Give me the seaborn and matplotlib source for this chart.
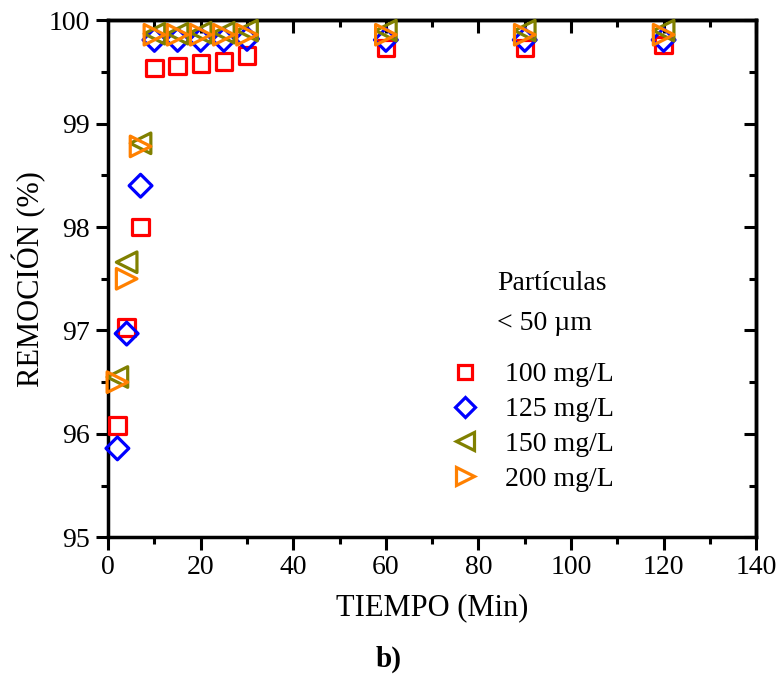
import matplotlib
matplotlib.use("Agg")
import matplotlib.pyplot as plt
import seaborn as sns
import pandas as pd
from matplotlib.ticker import MultipleLocator, NullFormatter
from matplotlib.lines import Line2D

tiempo = [2, 4, 7, 10, 15, 20, 25, 30, 60, 90, 120]
rem_100 = [96.08, 97.03, 98.00, 99.54, 99.56, 99.58, 99.60, 99.66, 99.73, 99.73, 99.76]
rem_125 = [95.86, 96.97, 98.40, 99.81, 99.81, 99.81, 99.81, 99.82, 99.81, 99.81, 99.81]
rem_150 = [96.55, 97.66, 98.81, 99.87, 99.87, 99.88, 99.88, 99.90, 99.90, 99.90, 99.90]
rem_200 = [96.50, 97.50, 98.78, 99.86, 99.86, 99.86, 99.86, 99.86, 99.86, 99.86, 99.86]
labels = ["100 mg/L", "125 mg/L", "150 mg/L", "200 mg/L"]

sns.set_theme(style="ticks")
plt.rcParams['font.family'] = ['Liberation Serif', 'DejaVu Serif']
for k in ['text.color', 'axes.labelcolor', 'xtick.color', 'ytick.color', 'axes.edgecolor']:
    plt.rcParams[k] = 'black'

fig = plt.figure(figsize=(7.78, 6.75), dpi=100)
ax = fig.add_axes([0.139, 0.204, 0.833, 0.766])

series = [rem_100, rem_125, rem_150, rem_200]
colors = ["#FF0000", "#0000FF", "#808000", "#FF8000"]
markers = ["s", "D", "<", ">"]
sizes = [140, 135, 220, 220]
handles = []
for vals, lab, col, mk, sz in zip(series, labels, colors, markers, sizes):
    df = pd.DataFrame({"t": tiempo, "r": vals})
    sns.scatterplot(data=df, x="t", y="r", ax=ax, marker=mk, s=sz,
                    facecolor="none", edgecolor=col, linewidth=2.3, zorder=3, clip_on=False)
    handles.append(Line2D([], [], linestyle="none", marker=mk,
                          markersize=(sz ** 0.5) * 0.85, markerfacecolor="none",
                          markeredgecolor=col, markeredgewidth=2.3, label=lab))

ax.set_xlim(0, 140)
ax.set_ylim(95, 100)
ax.xaxis.set_major_locator(MultipleLocator(20))
ax.xaxis.set_minor_locator(MultipleLocator(10))
ax.yaxis.set_major_locator(MultipleLocator(1))
ax.yaxis.set_minor_locator(MultipleLocator(0.5))
ax.tick_params(which="both", direction="out", labelsize=20, width=2.2)
ax.tick_params(which="major", length=9, pad=4)
ax.tick_params(which="minor", length=5)
for sp in ax.spines.values():
    sp.set_linewidth(2.5)

# top and right: inward ticks, no labels
top = ax.secondary_xaxis('top')
top.xaxis.set_major_locator(MultipleLocator(20))
top.xaxis.set_minor_locator(MultipleLocator(10))
top.xaxis.set_major_formatter(NullFormatter())
top.tick_params(which="both", direction="in", width=2.2)
top.tick_params(which="major", length=9)
top.tick_params(which="minor", length=5)
top.spines['top'].set_linewidth(2.5)
right = ax.secondary_yaxis('right')
right.yaxis.set_major_locator(MultipleLocator(1))
right.yaxis.set_minor_locator(MultipleLocator(0.5))
right.yaxis.set_major_formatter(NullFormatter())
right.tick_params(which="both", direction="in", width=2.2)
right.tick_params(which="major", length=9)
right.tick_params(which="minor", length=5)
right.spines['right'].set_linewidth(2.5)

ax.set_xlabel("TIEMPO (Min)", fontsize=22, labelpad=9)
ax.set_ylabel("REMOCIÓN (%)", fontsize=22, labelpad=2)

ax.text(0.600, 0.491, "Partículas", transform=ax.transAxes, fontsize=20, va="center", ha="left")
ax.text(0.600, 0.414, "< 50 µm", transform=ax.transAxes, fontsize=20, va="center", ha="left")
leg = ax.legend(handles=handles, loc="upper left", bbox_to_anchor=(0.497, 0.366),
                frameon=False, fontsize=20, handletextpad=0.7, labelspacing=0.34,
                borderpad=0.0, handlelength=1.5)

fig.text(0.5, 0.003, "b)", fontsize=21, fontweight="bold", ha="center", va="bottom")

fig.savefig("out.png", dpi=100)
